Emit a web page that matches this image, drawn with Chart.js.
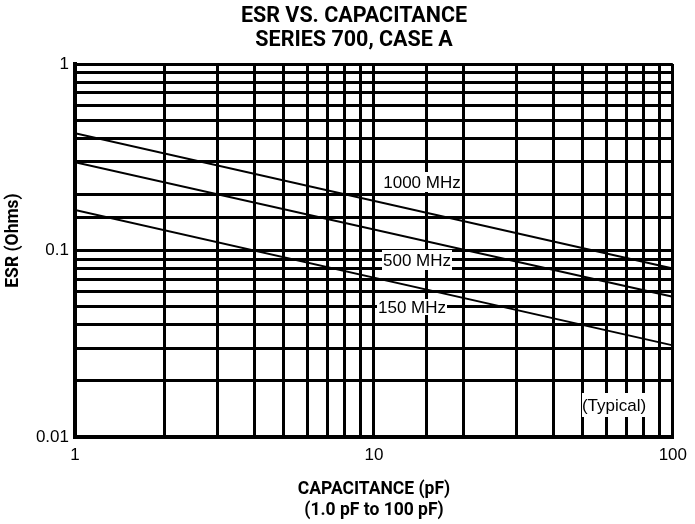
<!DOCTYPE html>
<html>
<head>
<meta charset="utf-8">
<script src="https://cdn.jsdelivr.net/npm/chart.js@4.4.1/dist/chart.umd.min.js"></script>
<style>
  html, body { margin: 0; padding: 0; background: #fff; }
  #wrap { width: 695px; height: 524px; }
</style>
</head>
<body>
<div id="wrap"><canvas id="esrChart" width="695" height="524"></canvas></div>
<script>
// capacitance end points (pF) and ESR (Ohms)
const capacitance = [1, 100];
const esr1000 = [0.425, 0.080];
const esr500 = [0.297, 0.0565];
const esr150 = [0.165, 0.031];
const seriesNames = ['1000 MHz', '500 MHz', '150 MHz'];
const majorTicks = [0.01, 0.1, 1, 10, 100];

const narrow = "'Liberation Sans Narrow', 'Liberation Sans', Arial, sans-serif";
const bold = "Roboto, 'Liberation Sans', sans-serif";

function toPoints(ys) {
  return capacitance.map((c, i) => ({ x: c, y: ys[i] }));
}

// titles and curve labels (labels sit on white boxes that cut the grid)
const labelPlugin = {
  id: 'labels',
  afterDraw(chart) {
    const ctx = chart.ctx;
    const a = chart.chartArea;
    ctx.save();
    ctx.fillStyle = '#000';
    ctx.textAlign = 'center';
    ctx.textBaseline = 'middle';
    ctx.font = 'bold 21.5px ' + bold;
    ctx.fillText('ESR VS. CAPACITANCE', 354, 17);
    ctx.fillText('SERIES 700, CASE A', 354, 41);
    ctx.font = 'bold 17.5px ' + bold;
    ctx.fillText('CAPACITANCE (pF)', 374, 490);
    ctx.fillText('(1.0 pF to 100 pF)', 374, 511);

    ctx.save();
    ctx.translate(14, (a.top + a.bottom) / 2 - 10);
    ctx.rotate(-Math.PI / 2);
    ctx.fillText('ESR (Ohms)', 0, 0);
    ctx.restore();

    const boxes = [
      { t: seriesNames[0], x: 422, y: 182, w: 76, h: 20 },
      { t: seriesNames[1], x: 417, y: 260, w: 70, h: 20 },
      { t: seriesNames[2], x: 412, y: 307, w: 70, h: 16 },
      { t: '(Typical)', x: 614, y: 405, w: 64, h: 24 }
    ];
    ctx.font = '17px ' + narrow;
    boxes.forEach(b => {
      ctx.fillStyle = '#fff';
      ctx.fillRect(b.x - b.w / 2, b.y - b.h / 2, b.w, b.h);
      ctx.fillStyle = '#000';
      ctx.fillText(b.t, b.x, b.y + 1);
    });
    ctx.restore();
  }
};

function lineSet(label, ys) {
  return {
    label: label,
    data: toPoints(ys),
    borderColor: '#000',
    borderWidth: 2,
    pointRadius: 0,
    fill: false,
    tension: 0
  };
}

const ctx = document.getElementById('esrChart').getContext('2d');
new Chart(ctx, {
  type: 'line',
  data: {
    datasets: [
      lineSet(seriesNames[0], esr1000),
      lineSet(seriesNames[1], esr500),
      lineSet(seriesNames[2], esr150)
    ]
  },
  options: {
    responsive: false,
    animation: false,
    layout: { padding: { left: 0, right: 20, top: 64, bottom: 0 } },
    plugins: {
      legend: { display: false },
      tooltip: { enabled: false },
      title: { display: false }
    },
    scales: {
      x: {
        type: 'logarithmic',
        min: 1,
        max: 100,
        afterFit: s => { s.height = 87; },
        grid: { color: '#000', lineWidth: 3, drawTicks: false },
        border: { color: '#000', width: 4 },
        ticks: {
          autoSkip: false,
          maxRotation: 0,
          padding: 8,
          color: '#000',
          font: { family: narrow, size: 17 },
          callback: v => majorTicks.includes(v) ? String(v) : ''
        }
      },
      y: {
        type: 'logarithmic',
        min: 0.01,
        max: 1,
        afterFit: s => { s.width = 75; },
        grid: { color: '#000', lineWidth: 3, drawTicks: false },
        border: { color: '#000', width: 4 },
        ticks: {
          autoSkip: false,
          padding: 6,
          color: '#000',
          font: { family: narrow, size: 17 },
          callback: v => majorTicks.includes(v) ? String(v) : ''
        }
      }
    }
  },
  plugins: [labelPlugin]
});
</script>
</body>
</html>
